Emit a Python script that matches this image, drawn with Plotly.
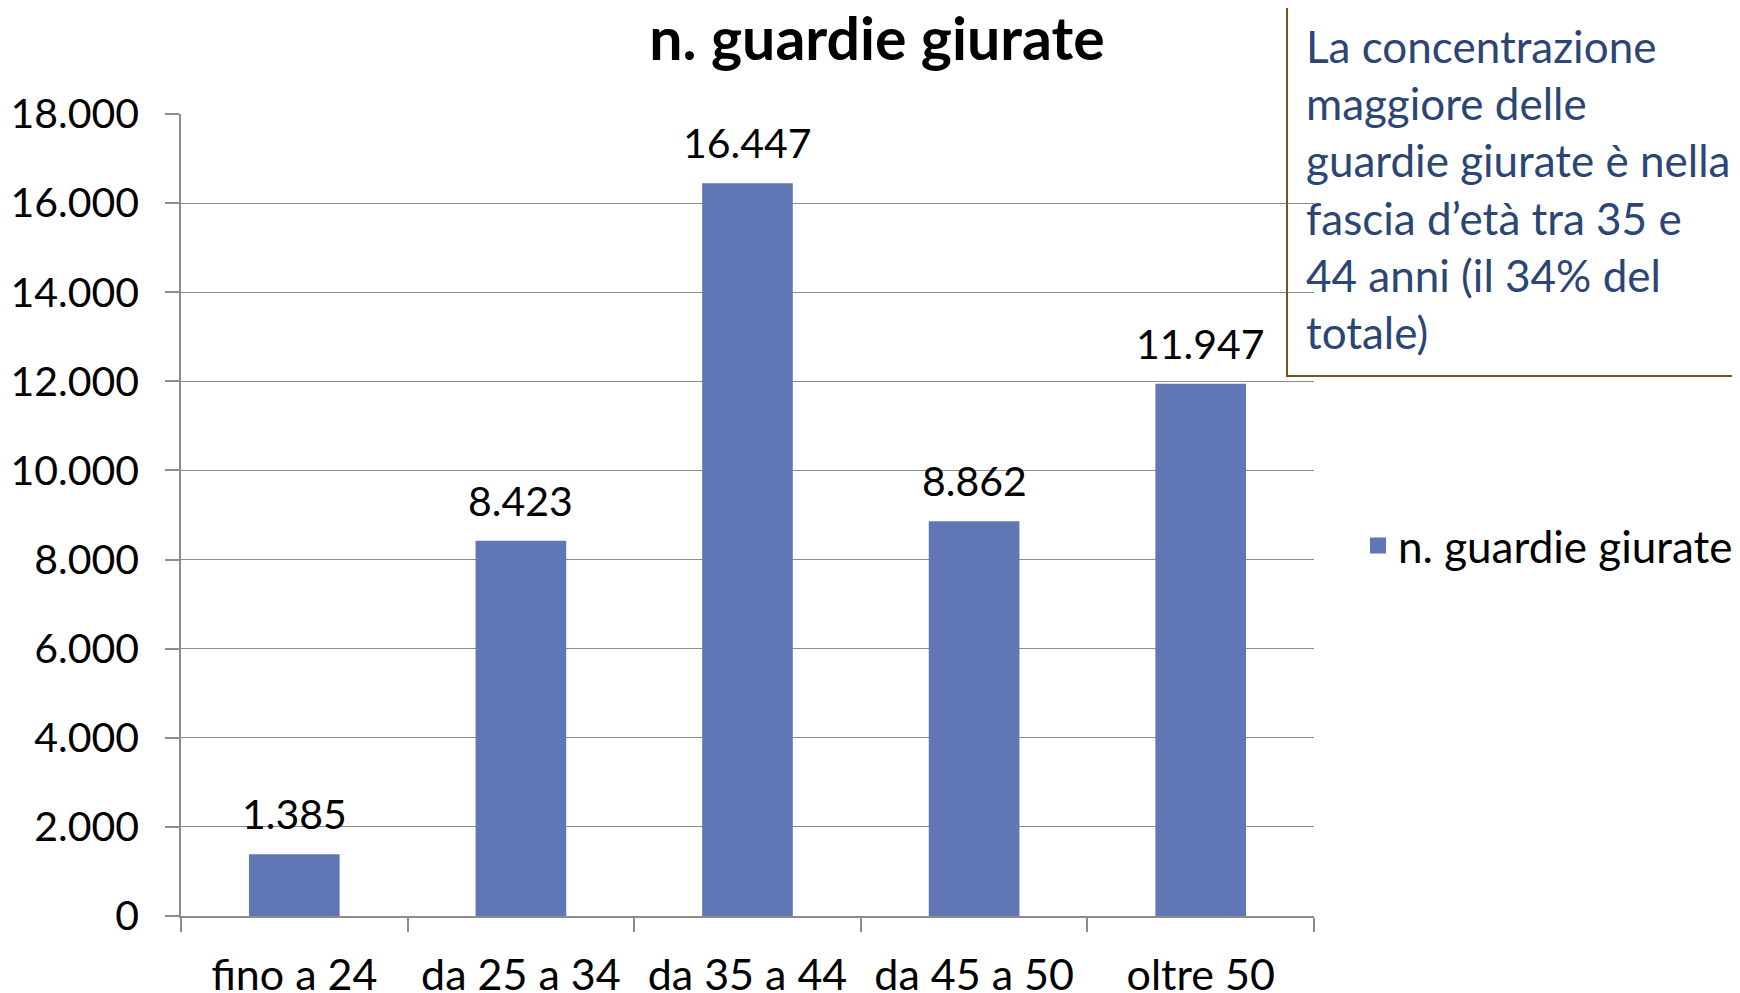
import plotly.graph_objects as go

categories = ["fino a 24", "da 25 a 34", "da 35 a 44", "da 45 a 50", "oltre 50"]
values = [1385, 8423, 16447, 8862, 11947]
series_name = "n. guardie giurate"
title_text = "n. guardie giurate"
note_lines = ["La concentrazione", "maggiore delle", "guardie giurate è nella",
              "fascia d’età tra 35 e", "44 anni (il 34% del", "totale)"]
y_ticks = list(range(0, 18001, 2000))

FONT = "Lato"
W, H = 1740, 993
OFF = 8  # page body margin
L, T = 181 - OFF, 114 - OFF
R = W - (1314 - OFF)
B = H - (916 - OFF)
pw, ph = W - L - R, H - T - B


def fmt(v):
    return f"{v:,}".replace(",", ".")


def px(x):  # page x -> paper
    return (x - OFF - L) / pw


def py(y):  # page y -> paper
    return (H - B - (y - OFF)) / ph


fig = go.Figure()
fig.add_trace(go.Bar(
    x=categories, y=values, name=series_name,
    marker=dict(color="#6176B4", line=dict(width=0)),
    showlegend=False,
))
# legend entry with a larger square key
fig.add_trace(go.Scatter(
    x=[None], y=[None], mode="markers", name=series_name,
    marker=dict(symbol="square", size=24, color="#6176B4"),
    showlegend=True, hoverinfo="skip",
))

for c, v in zip(categories, values):
    fig.add_annotation(x=c, y=v, xref="x", yref="y", text=fmt(v),
                       showarrow=False, yanchor="bottom", yshift=14,
                       font=dict(family=FONT, size=41, color="black"))

fig.add_annotation(
    xref="paper", yref="paper", x=px(1304), y=py(18), xanchor="left", yanchor="top",
    align="left", showarrow=False, text="<br>".join(note_lines),
    font=dict(family=FONT, size=44, color="#2B4574"),
)
fig.add_shape(type="rect", xref="paper", yref="paper",
              x0=px(1287), x1=px(1760), y0=py(376), y1=py(7),
              line=dict(color="#7F4F22", width=2), fillcolor="rgba(0,0,0,0)")

fig.update_layout(
    width=W, height=H,
    margin=dict(l=L, r=R, t=T, b=B, autoexpand=False),
    paper_bgcolor="white", plot_bgcolor="white",
    separators=",.",
    bargap=0.6,
    font=dict(family=FONT, color="black"),
    title=dict(text="<b>" + title_text + "</b>", x=(877 - OFF) / W, xref="container",
               xanchor="center", y=1 - (39 - OFF) / H, yref="container", yanchor="middle",
               font=dict(family=FONT, size=59, color="black")),
    legend=dict(x=px(1358), y=py(546), xanchor="left", yanchor="middle",
                font=dict(family=FONT, size=44, color="black"),
                bgcolor="rgba(0,0,0,0)", itemwidth=30, itemsizing="trace"),
)
fig.update_xaxes(
    type="category", showgrid=False, showline=True, linecolor="#8C8C8C", linewidth=1.5,
    ticks="outside", tickson="boundaries", ticklen=14, tickcolor="#8C8C8C", tickwidth=1.5,
    tickfont=dict(family=FONT, size=43, color="black"), ticklabelstandoff=21,
)
fig.update_yaxes(
    range=[0, 18000], tickvals=y_ticks, tickformat=",d",
    showgrid=True, gridcolor="#8C8C8C", gridwidth=1.3,
    showline=True, linecolor="#8C8C8C", linewidth=1.5,
    ticks="outside", ticklen=14, tickcolor="#8C8C8C", tickwidth=1.5,
    tickfont=dict(family=FONT, size=41, color="black"), ticklabelstandoff=18,
    zeroline=False,
)

fig.write_html("out.html")
